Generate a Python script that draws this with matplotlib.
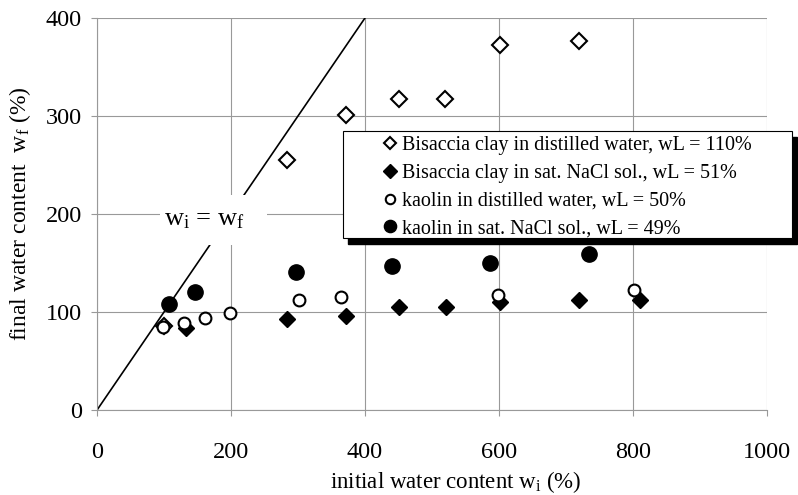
import numpy as np
import matplotlib
matplotlib.use("Agg")
import matplotlib.pyplot as plt
from matplotlib.patches import Rectangle

plt.rcParams['font.family'] = ['Liberation Serif', 'DejaVu Serif']
plt.rcParams['mathtext.fontset'] = 'custom'
plt.rcParams['mathtext.rm'] = 'Liberation Serif'
plt.rcParams['mathtext.it'] = 'Liberation Serif:italic'

# Bisaccia clay in distilled water
bis_dw_x = [100, 283, 371, 451, 519, 601, 719]
bis_dw_y = [86, 255, 301, 317, 317, 372, 377]
# Bisaccia clay in saturated NaCl solution
bis_na_x = [133, 283, 372, 451, 521, 601, 719, 810]
bis_na_y = [84, 93, 96, 105, 105, 110, 112, 112]
# kaolin in distilled water
kao_dw_x = [98, 130, 161, 199, 301, 364, 598, 802]
kao_dw_y = [85, 89, 94, 99, 112, 115, 117, 122]
# kaolin in saturated NaCl solution
kao_na_x = [108, 146, 297, 441, 586, 735]
kao_na_y = [108, 120, 141, 147, 150, 159]

labels = ["Bisaccia clay in distilled water, wL = 110%",
          "Bisaccia clay in sat. NaCl sol., wL = 51%",
          "kaolin in distilled water, wL = 50%",
          "kaolin in sat. NaCl sol., wL = 49%"]

fig = plt.figure(figsize=(7.98, 4.95), dpi=100)
ax = fig.add_axes([0.1216, 0.1717, 0.8394, 0.7919])

# w_i = w_f line with a white label box sitting on it
ax.plot([0, 400], [0, 400], color='black', lw=1.2, zorder=2)
ax.add_patch(Rectangle((94, 168), 160, 51, facecolor='white', edgecolor='none', zorder=3))
ax.text(160, 194, r"w$_\mathrm{i}$ = w$_\mathrm{f}$", fontsize=19, va='center', ha='center', zorder=3.5)

ax.plot(bis_dw_x, bis_dw_y, 'D', ms=8, mfc='white', mec='black', mew=1.5, label=labels[0], zorder=4)
ax.plot(bis_na_x, bis_na_y, 'D', ms=8.5, mfc='black', mec='black', label=labels[1], zorder=4)
ax.plot(kao_dw_x, kao_dw_y, 'o', ms=8.5, mfc='white', mec='black', mew=1.5, label=labels[2], zorder=5)
ax.plot(kao_na_x, kao_na_y, 'o', ms=11, mfc='black', mec='black', label=labels[3], zorder=4)

ax.set_xlim(0, 1000)
ax.set_ylim(0, 400)
ax.set_xticks(np.arange(0, 1001, 200))
ax.set_yticks(np.arange(0, 401, 100))
ax.grid(True, color='#999999', lw=0.8)
for s in ['top', 'right']:
    ax.spines[s].set_visible(False)
for s in ['left', 'bottom']:
    ax.spines[s].set_color('#999999')
ax.tick_params(direction='out', length=4, color='#999999', labelsize=17.5)
ax.tick_params(axis='x', pad=19)
ax.tick_params(axis='y', pad=7)

ax.set_xlabel(r"initial water content w$_\mathrm{i}$ (%)", fontsize=16.5)
ax.xaxis.set_label_coords(0.536, -0.150)
ax.set_ylabel(r"final water content  w$_\mathrm{f}$ (%)", fontsize=17)
ax.yaxis.set_label_coords(-0.095, 0.5)

# legend box with black drop shadow
x0, y0, x1, y1 = 0.367, 0.439, 1.037, 0.712
shadow = Rectangle((x0 + 0.0075, y0 - 0.0153), x1 - x0, y1 - y0, transform=ax.transAxes,
                   facecolor='black', edgecolor='black', zorder=9, clip_on=False)
box = Rectangle((x0, y0), x1 - x0, y1 - y0, transform=ax.transAxes,
                facecolor='white', edgecolor='black', lw=0.8, zorder=9.5, clip_on=False)
ax.add_patch(shadow)
ax.add_patch(box)

leg = ax.legend(loc='upper left', bbox_to_anchor=(0.425, 0.698), fontsize=14.5,
                frameon=False, borderpad=0, borderaxespad=0,
                handletextpad=0.2, handlelength=0.8, labelspacing=0.42, markerscale=0.8)
leg.set_zorder(10)

fig.savefig("out.png", dpi=100)
